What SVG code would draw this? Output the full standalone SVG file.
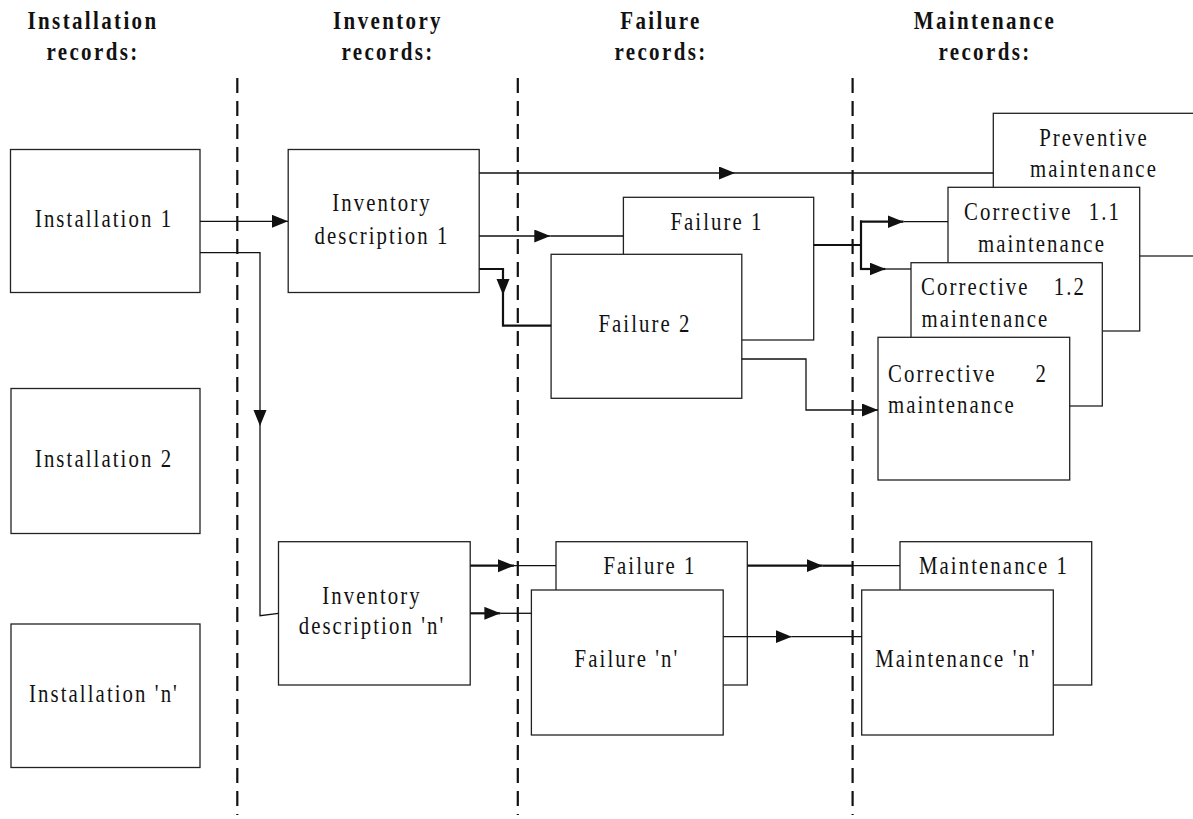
<svg xmlns="http://www.w3.org/2000/svg" width="1193" height="819" viewBox="0 0 1193 819">
  <style>
    .box { fill: #fff; stroke: #222; stroke-width: 1.3; }
    .lbl { font-family: "Liberation Serif", "Times New Roman", serif; font-size: 26px; letter-spacing: 2.6px; fill: #111; }
    .mid { text-anchor: middle; }
    .end { text-anchor: end; }
    .head { font-family: "Liberation Serif", "Times New Roman", serif; font-size: 25px; font-weight: bold; letter-spacing: 2.8px; fill: #111; text-anchor: middle; }
    .sep { stroke: #111; stroke-width: 2.2; stroke-dasharray: 15 8; fill: none; }
    .ln { stroke: #111; stroke-width: 1.3; fill: none; }
    .thick { stroke: #111; stroke-width: 2.2; fill: none; }
    .arr { marker-end: url(#ah); }
  </style>
  <defs>
    <marker id="ah" markerUnits="userSpaceOnUse" markerWidth="17" markerHeight="14" refX="16" refY="6.5" orient="auto">
      <path d="M0,0 L16,6.5 L0,13 z" fill="#111"/>
    </marker>
  </defs>
  <rect width="1193" height="819" fill="#fff"/>

  <!-- column headings (narrow, letter-spaced bold serif) -->
  <g id="headings">
    <text class="head" transform="translate(93,28.5) scale(0.84,1)">Installation</text>
    <text class="head" transform="translate(93,60) scale(0.84,1)">records:</text>
    <text class="head" transform="translate(388,28.5) scale(0.84,1)">Inventory</text>
    <text class="head" transform="translate(388,60) scale(0.84,1)">records:</text>
    <text class="head" transform="translate(661,28.5) scale(0.84,1)">Failure</text>
    <text class="head" transform="translate(661,60) scale(0.84,1)">records:</text>
    <text class="head" transform="translate(985,28.5) scale(0.84,1)">Maintenance</text>
    <text class="head" transform="translate(985,60) scale(0.84,1)">records:</text>
  </g>

  <!-- column separators -->
  <g id="separators">
    <line class="sep" x1="237.3" y1="78" x2="237.3" y2="815"/>
    <line class="sep" x1="517.8" y1="78" x2="517.8" y2="815"/>
    <line class="sep" x1="852.6" y1="78" x2="852.6" y2="815"/>
  </g>

  <!-- installation records -->
  <g id="installation-1">
    <rect class="box" x="10.5" y="149.5" width="189.5" height="143"/>
    <text class="lbl mid" transform="translate(104,227) scale(0.8,1)">Installation 1</text>
  </g>
  <g id="installation-2">
    <rect class="box" x="11" y="388.5" width="189" height="145"/>
    <text class="lbl mid" transform="translate(104,467) scale(0.8,1)">Installation 2</text>
  </g>
  <g id="installation-n">
    <rect class="box" x="11" y="624" width="189" height="143.5"/>
    <text class="lbl mid" transform="translate(104,702) scale(0.8,1)">Installation 'n'</text>
  </g>

  <!-- inventory records -->
  <g id="inventory-1">
    <rect class="box" x="288.2" y="149.5" width="191" height="143"/>
    <text class="lbl mid" transform="translate(382,211) scale(0.8,1)">Inventory</text>
    <text class="lbl mid" transform="translate(382,243.5) scale(0.8,1)">description 1</text>
  </g>
  <g id="inventory-n">
    <rect class="box" x="278.5" y="541.7" width="191.7" height="143.3"/>
    <text class="lbl mid" transform="translate(372,603.5) scale(0.8,1)">Inventory</text>
    <text class="lbl mid" transform="translate(372,633.5) scale(0.8,1)">description 'n'</text>
  </g>

  <!-- failure records, first installation -->
  <g id="failure-1a">
    <rect class="box" x="623.4" y="197.3" width="190.3" height="142.7"/>
    <text class="lbl mid" transform="translate(717,230) scale(0.8,1)">Failure 1</text>
  </g>
  <g id="failure-2a">
    <rect class="box" x="551.1" y="254.3" width="190.7" height="144"/>
    <text class="lbl mid" transform="translate(645,331.5) scale(0.8,1)">Failure 2</text>
  </g>

  <!-- maintenance records, first installation -->
  <g id="preventive">
    <rect class="box" x="993.3" y="113.3" width="205" height="142.7"/>
    <text class="lbl mid" transform="translate(1094,145.7) scale(0.8,1)">Preventive</text>
    <text class="lbl mid" transform="translate(1094,177.3) scale(0.8,1)">maintenance</text>
  </g>
  <g id="corrective-1-1">
    <rect class="box" x="948" y="187.3" width="191.7" height="143.7"/>
    <text class="lbl" transform="translate(964,220) scale(0.8,1)">Corrective</text>
    <text class="lbl end" transform="translate(1121,220) scale(0.8,1)">1.1</text>
    <text class="lbl mid" transform="translate(1042,251.7) scale(0.8,1)">maintenance</text>
  </g>
  <g id="corrective-1-2">
    <rect class="box" x="911" y="262.7" width="191.3" height="143.3"/>
    <text class="lbl" transform="translate(921,295) scale(0.8,1)">Corrective</text>
    <text class="lbl end" transform="translate(1086,295) scale(0.8,1)">1.2</text>
    <text class="lbl" transform="translate(921.5,326.7) scale(0.8,1)">maintenance</text>
  </g>
  <g id="corrective-2">
    <rect class="box" x="878" y="337.3" width="191.7" height="142.7"/>
    <text class="lbl" transform="translate(888,381.7) scale(0.8,1)">Corrective</text>
    <text class="lbl end" transform="translate(1048,381.7) scale(0.8,1)">2</text>
    <text class="lbl" transform="translate(888,413.3) scale(0.8,1)">maintenance</text>
  </g>

  <!-- failure records, installation 'n' -->
  <g id="failure-1n">
    <rect class="box" x="556" y="541.7" width="191.3" height="143.3"/>
    <text class="lbl mid" transform="translate(650,574) scale(0.8,1)">Failure 1</text>
  </g>
  <g id="failure-nn">
    <rect class="box" x="531.4" y="590" width="191.8" height="145"/>
    <text class="lbl mid" transform="translate(627,666.7) scale(0.8,1)">Failure 'n'</text>
  </g>

  <!-- maintenance records, installation 'n' -->
  <g id="maintenance-1">
    <rect class="box" x="900" y="541.7" width="191.7" height="143.3"/>
    <text class="lbl mid" transform="translate(994,574) scale(0.8,1)">Maintenance 1</text>
  </g>
  <g id="maintenance-n">
    <rect class="box" x="861.7" y="590" width="191.6" height="145"/>
    <text class="lbl mid" transform="translate(956,666.7) scale(0.8,1)">Maintenance 'n'</text>
  </g>

  <!-- connectors -->
  <g id="connectors">
    <path class="ln arr" d="M200,221.3 H288"/>
    <path class="ln arr" d="M200,252.7 H260 V426"/>
    <path class="ln" d="M260,426 V615.7 L278.5,613.3"/>

    <path class="ln arr" d="M479.2,173 H735"/>
    <path class="ln" d="M735,173 H993.3" style="stroke-width:1.7"/>

    <path class="ln arr" d="M479.2,236 H550.3"/>
    <path class="ln" d="M550.3,236 H623.4"/>

    <path class="thick arr" d="M479.2,269 H503 V295"/>
    <path class="thick" d="M503,295 V325.7 H551.1"/>

    <path class="thick" d="M813.7,245 H861 M861,220.6 V270.1"/>
    <path class="thick arr" d="M860,221.7 H903.5"/>
    <path class="ln" d="M903.5,221.7 H948"/>
    <path class="thick arr" d="M860,269 H885.6"/>
    <path class="ln" d="M885.6,269 H911"/>

    <path class="ln arr" d="M741.8,359 H806 V410 H878"/>

    <path class="thick arr" d="M470.2,565.7 H514"/>
    <path class="ln" d="M514,565.7 H556"/>
    <path class="thick arr" d="M470.2,613.3 H500.4"/>
    <path class="ln" d="M500.4,613.3 H531.4"/>

    <path class="thick arr" d="M747.3,565.7 H822.7"/>
    <path class="thick" d="M822.7,565.7 H852.6"/>
    <path class="ln" d="M852.6,565.7 H900"/>

    <path class="ln arr" d="M723.2,636.7 H791.7"/>
    <path class="ln" d="M791.7,636.7 H861.7"/>
  </g>
</svg>
